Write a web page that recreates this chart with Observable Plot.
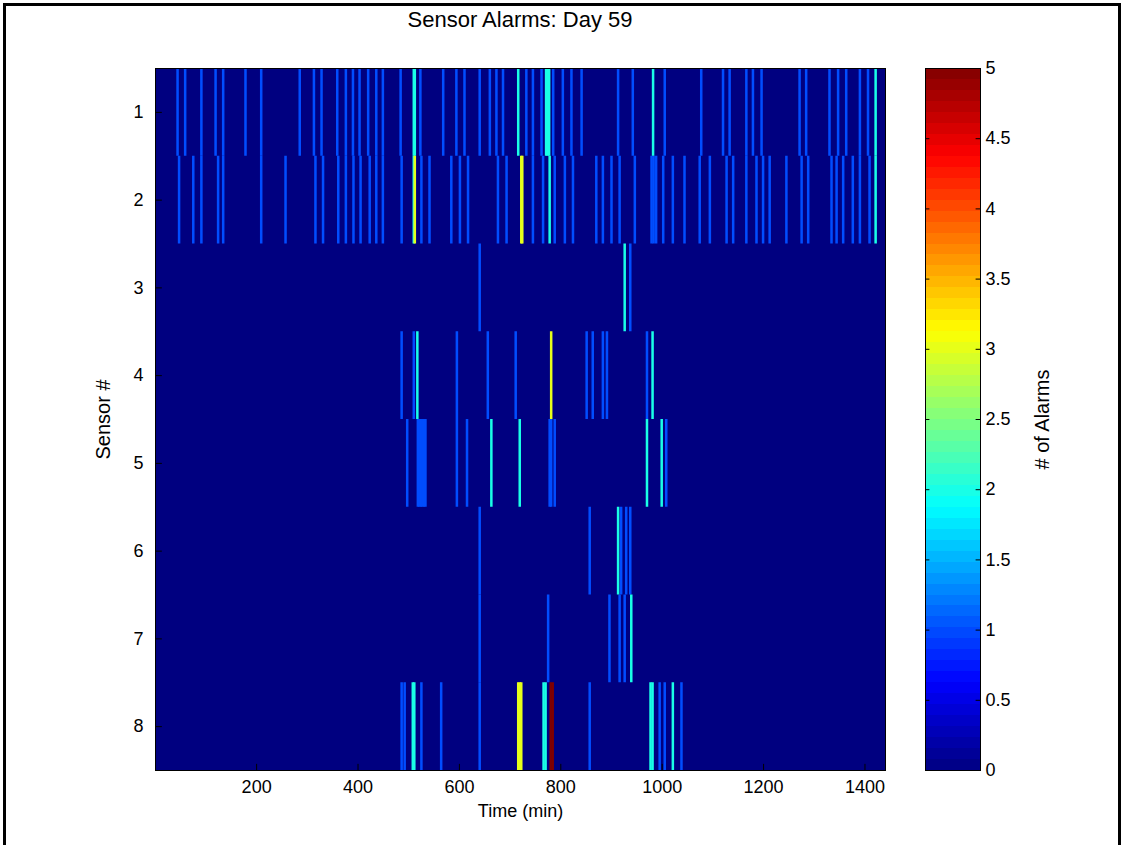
<!DOCTYPE html>
<html>
<head>
<meta charset="utf-8">
<script src="https://cdn.jsdelivr.net/npm/d3@7"></script>
<script src="https://cdn.jsdelivr.net/npm/@observablehq/plot@0.6"></script>
<style>
  body { margin: 0; background: #fff; }
  #fig { position: relative; width: 1124px; height: 845px; overflow: hidden; background: #fff;
         font-family: "Liberation Sans", Arial, Helvetica, sans-serif; }
  #border { position: absolute; left: 3px; top: 3px; width: 1112px; height: 860px; border: 3px solid #000; }
  #title { position: absolute; left: 155px; width: 730px; top: 7px; text-align: center; font-size: 22px; color: #000; }
  #main { position: absolute; left: 0; top: 0; }
  #cbar { position: absolute; left: 900px; top: 0; }
</style>
</head>
<body>
<div id="fig">
  <div id="border"></div>
  <div id="title">Sensor Alarms: Day 59</div>
  <div id="main"></div>
  <div id="cbar"></div>
</div>
<script>
// ---- data: [minute, number of alarms] per sensor (all other minutes = 0) ----
const sensors = [1, 2, 3, 4, 5, 6, 7, 8];
const sensor1 = [[45,1],[60,1],[92,1],[120,1],[135,1],[179,1],[210,1],[286,1],[314,1],[329,1],[360,1],[377,1],[391,1],[404,1],[421,1],[437,1],[450,1],[485,1],[511,2],[513,2],[524,1],[569,1],[595,1],[611,1],[641,1],[661,1],[674,1],[687,1],[717,2],[733,1],[746,1],[763,1],[772,2],[775,2],[778,2],[786,1],[805,1],[822,1],[842,1],[914,1],[943,1],[983,2],[1006,1],[1078,1],[1121,1],[1134,1],[1167,1],[1180,1],[1197,1],[1272,1],[1285,1],[1331,1],[1348,1],[1364,1],[1391,1],[1407,1],[1422,2]];
const sensor2 = [[48,1],[76,1],[92,1],[125,1],[135,1],[210,1],[258,1],[317,1],[332,1],[362,1],[377,1],[392,1],[406,1],[424,1],[437,1],[450,1],[487,1],[511,2],[513,3],[526,1],[542,1],[585,1],[602,1],[618,1],[677,1],[694,1],[723,3],[725,3],[746,1],[766,1],[779,2],[789,1],[809,1],[825,1],[871,1],[884,1],[901,1],[917,1],[947,1],[980,1],[984,1],[989,1],[1003,1],[1022,1],[1045,1],[1075,1],[1095,1],[1128,1],[1141,1],[1167,1],[1187,1],[1200,1],[1213,1],[1246,1],[1276,1],[1289,1],[1335,1],[1345,1],[1358,1],[1377,1],[1391,1],[1410,1],[1422,2]];
const sensor3 = [[641,1],[927,2],[938,1]];
const sensor4 = [[487,1],[511,1],[518,2],[596,1],[657,1],[712,1],[782,3],[852,1],[864,1],[884,1],[892,1],[971,1],[982,2]];
const sensor5 = [[498,1],[519,1],[522,1],[525,1],[528,1],[531,1],[534,1],[596,1],[616,1],[664,2],[720,2],[779,1],[782,1],[789,1],[971,2],[1000,2],[1009,1]];
const sensor6 = [[641,1],[858,1],[914,2],[920,1],[930,1],[938,1]];
const sensor7 = [[641,1],[776,1],[897,1],[917,1],[927,1],[940,2]];
const sensor8 = [[487,1],[493,1],[509,2],[512,2],[526,1],[565,1],[641,1],[717,3],[720,3],[723,3],[767,2],[771,2],[781,5],[785,5],[858,1],[978,2],[982,2],[996,1],[1006,1],[1022,2],[1039,1]];
const xTicks = [200, 400, 600, 800, 1000, 1200, 1400];
const colorTicks = [0, 0.5, 1, 1.5, 2, 2.5, 3, 3.5, 4, 4.5, 5];
const xLabel = "Time (min)";
const yLabel = "Sensor #";
const colorLabel = "# of Alarms";

// ---- table built from the arrays ----
const bySensor = [sensor1, sensor2, sensor3, sensor4, sensor5, sensor6, sensor7, sensor8];
const alarms = bySensor.flatMap((arr, i) => arr.map(([minute, count]) => ({sensor: sensors[i], minute, count})))
  .sort((a, b) => a.count - b.count);

// MATLAB "jet" colormap
const jet = {
  type: "linear",
  domain: [0, 0.625, 1.875, 3.125, 4.375, 5],
  range: ["#000080", "#0000ff", "#00ffff", "#ffff00", "#ff0000", "#800000"],
  interpolate: "rgb"
};

const fontStyle = {fontSize: "18px", fontFamily: "\"Liberation Sans\", Arial, Helvetica, sans-serif", color: "#000", background: "transparent"};

const main = Plot.plot({
  width: 900,
  height: 845,
  marginLeft: 155,
  marginRight: 15,
  marginTop: 68,
  marginBottom: 75,
  style: fontStyle,
  x: {domain: [0.5, 1440.5], ticks: xTicks, tickFormat: d => String(d), tickSize: 0, tickPadding: 10, label: null},
  y: {domain: [0.5, 8.5], reverse: true, ticks: sensors, tickFormat: d => String(d), tickSize: 0, tickPadding: 12, label: null},
  color: jet,
  marks: [
    Plot.rect([0], {x1: 0.5, x2: 1440.5, y1: 0.5, y2: 8.5, fill: d => d}),
    Plot.rect(alarms, {x1: d => d.minute - 0.5, x2: d => d.minute + 0.5, y1: d => d.sensor - 0.5, y2: d => d.sensor + 0.5, fill: "count", insetLeft: -1, insetRight: -1}),
    Plot.ruleX(xTicks, {x: d => d, y1: 8.5, y2: 8.43, stroke: "#000"}),
    Plot.ruleY(sensors, {y: d => d, x1: 0.5, x2: 14, stroke: "#000"}),
    Plot.frame({stroke: "#000"}),
    Plot.text([xLabel], {text: d => d, frameAnchor: "bottom", dy: 46, fontSize: 18}),
    Plot.text([yLabel], {text: d => d, frameAnchor: "left", textAnchor: "middle", dx: -52, rotate: -90, fontSize: 20})
  ]
});
document.getElementById("main").appendChild(main);

// colorbar
const steps = d3.range(64);
const cbar = Plot.plot({
  width: 224,
  height: 845,
  marginLeft: 25,
  marginRight: 144,
  marginTop: 68,
  marginBottom: 75,
  style: fontStyle,
  x: {domain: [0, 1], axis: null},
  y: {domain: [0, 5], ticks: colorTicks, tickFormat: d => String(d), axis: "right", tickSize: 0, tickPadding: 5, label: null},
  color: jet,
  marks: [
    Plot.rect(steps, {x1: 0, x2: 1, y1: i => i * 5 / 64, y2: i => (i + 1) * 5 / 64, fill: i => (i + 0.5) * 5 / 64, shapeRendering: "crispEdges"}),
    Plot.ruleY(colorTicks, {y: d => d, x1: 0, x2: 0.08, stroke: "#000"}),
    Plot.ruleY(colorTicks, {y: d => d, x1: 0.92, x2: 1, stroke: "#000"}),
    Plot.frame({stroke: "#000"}),
    Plot.text([colorLabel], {text: d => d, frameAnchor: "right", textAnchor: "middle", dx: 62, rotate: -90, fontSize: 20})
  ]
});
document.getElementById("cbar").appendChild(cbar);
</script>
</body>
</html>
